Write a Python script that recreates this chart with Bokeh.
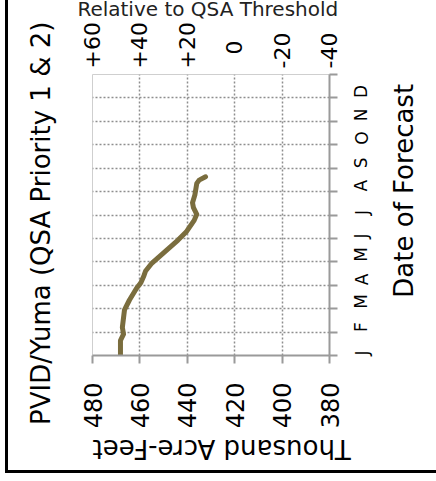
import math
from bokeh.plotting import figure
from bokeh.models import Range1d, LinearAxis, FixedTicker
from bokeh.embed import file_html
from bokeh.resources import INLINE

# ---------------- data ----------------
title_text = "PVID/Yuma (QSA Priority 1 & 2)"
value_axis_title = "Thousand Acre-Feet"
relative_axis_title = "Relative to  QSA Threshold"
date_axis_title = "Date of Forecast"
month_labels = ["J", "F", "M", "A", "M", "J", "J", "A", "S", "O", "N", "D"]
value_ticks = [480, 460, 440, 420, 400, 380]
qsa_threshold = 420
# forecast date expressed in months since 1 January
forecast_month = [0.0, 0.64, 0.91, 1.20, 1.95, 2.37, 2.87, 3.11, 3.41, 3.61, 3.95,
                  4.44, 4.93, 5.27, 5.77, 6.03, 6.31, 6.52, 6.86, 7.35, 7.49, 7.63]
forecast_kaf = [468.2, 468.2, 466.9, 467.4, 466.5, 464.4, 461.4, 459.6, 458.3, 457.6, 454.9,
                449.4, 443.9, 440.5, 437.1, 436.0, 437.4, 437.8, 436.8, 436.0, 435.0, 432.3]

FONT = "DejaVu Sans"
GRID = "#8e8e8e"
AXIS = "#9a9a9a"
NBSP = "\u00a0"

# The original chart is cropped by the window at its top: the canvas starts a
# few pixels above the page.
p = figure(width=436, height=487,
           x_range=Range1d(480, 380), y_range=Range1d(0, 12),
           output_backend="svg", toolbar_location=None,
           y_axis_location="right",
           min_border_left=92, min_border_right=100,
           min_border_top=74, min_border_bottom=124)
p.background_fill_color = "white"
p.border_fill_color = None
p.styles = {
    "margin-top": "-6px",
    "background": "linear-gradient(#000, #000) 5px 0px / 3px 479px no-repeat, "
                  "linear-gradient(#000, #000) 5px 476px / 431px 3px no-repeat, #ffffff",
}
p.outline_line_color = "#cfcfcf"
p.outline_line_width = 1

# bottom axis (values)
xa = p.xaxis[0]
xa.ticker = FixedTicker(ticks=value_ticks)
xa.major_label_orientation = math.pi / 2
xa.major_label_text_font = FONT
xa.major_label_text_font_size = "24px"
xa.major_label_text_color = "black"
xa.major_label_standoff = 19
xa.axis_line_color = AXIS
xa.axis_line_width = 2
xa.major_tick_line_color = AXIS
xa.major_tick_line_width = 2
xa.major_tick_out = 8
xa.major_tick_in = 0
xa.minor_tick_line_color = None

# right axis (months)
ya = p.yaxis[0]
ya.ticker = FixedTicker(ticks=list(range(13)))
ya.major_label_overrides = {i: (month_labels[i] if i < 12 else "") for i in range(13)}
ya.major_label_orientation = math.pi / 2
ya.major_label_text_font = FONT
ya.major_label_text_font_size = "17px"
ya.major_label_text_color = "black"
ya.major_label_standoff = 24
ya.axis_line_color = AXIS
ya.axis_line_width = 2
ya.major_tick_line_color = AXIS
ya.major_tick_line_width = 2
ya.major_tick_out = 8
ya.major_tick_in = 0
ya.minor_tick_line_color = None

# top axis (relative to threshold)
rel = {}
for v in value_ticks:
    d = v - qsa_threshold
    if d > 0:
        rel[v] = "+%d" % d
    elif d == 0:
        rel[v] = NBSP * 2 + "0" + NBSP * 2
    else:
        rel[v] = "%d" % d
top = LinearAxis(ticker=FixedTicker(ticks=value_ticks), major_label_overrides=rel,
                 major_label_orientation=math.pi / 2,
                 major_label_text_font=FONT, major_label_text_font_size="22px",
                 major_label_text_color="black", major_label_standoff=0,
                 axis_line_color=None, major_tick_line_color=None,
                 minor_tick_line_color=None,
                 axis_label=relative_axis_title, axis_label_standoff=-2,
                 axis_label_text_font=FONT, axis_label_text_font_size="20px",
                 axis_label_text_font_style="normal", axis_label_text_color="#222222")
p.add_layout(top, "above")


def title_axis(text, orient, align, standoff):
    ax = LinearAxis(ticker=FixedTicker(ticks=[]),
                    axis_line_color=None, major_tick_line_color=None,
                    minor_tick_line_color=None, major_label_text_font_size="0px",
                    axis_label=text, axis_label_standoff=standoff,
                    axis_label_text_font=FONT, axis_label_text_font_size="26px",
                    axis_label_text_font_style="normal", axis_label_text_color="black")
    if orient is not None:
        ax.axis_label_orientation = orient
    if align is not None:
        ax.axis_label_align = align
    return ax


p.add_layout(title_axis(title_text + NBSP * 2, None, None, 37), "left")
p.add_layout(title_axis(value_axis_title, math.pi, "end", 17), "below")
p.add_layout(title_axis(NBSP * 7 + date_axis_title, math.pi / 2, "start", 19), "right")

# grids
p.xgrid.ticker = FixedTicker(ticks=value_ticks[1:-1])
p.ygrid.ticker = FixedTicker(ticks=list(range(1, 12)))
for g in (p.xgrid, p.ygrid):
    g.grid_line_color = GRID
    g.grid_line_dash = "2 2"
    g.grid_line_width = 1.5

p.line(x=forecast_kaf, y=forecast_month, line_color="#7a6d3e", line_width=5,
       line_cap="round", line_join="round")

open("out.html", "w").write(file_html(p, INLINE))
